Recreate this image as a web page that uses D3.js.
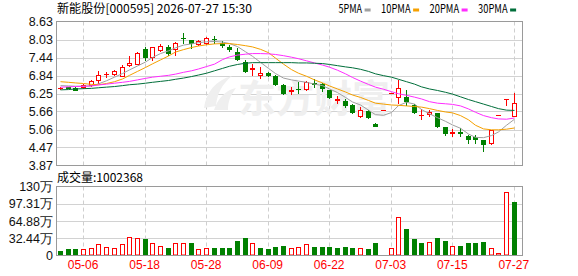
<!DOCTYPE html>
<html lang="zh">
<head>
<meta charset="utf-8">
<title>新能股份 K线</title>
<script src="https://d3js.org/d3.v7.min.js"></script>
<style>
body{margin:0;background:#fff;overflow:hidden;}
svg{display:block;}
.axis text{font-family:"Liberation Sans",Arial,sans-serif;}
</style>
</head>
<body>
<svg id="chart" width="578" height="276"></svg>
<script>
// trading days shown on the chart
var dates = ["04-28","04-29","04-30","05-06","05-07","05-08","05-11","05-12","05-13","05-14",
  "05-15","05-18","05-19","05-20","05-21","05-22","05-25","05-26","05-27","05-28",
  "05-29","06-01","06-02","06-03","06-04","06-05","06-08","06-09","06-10","06-11",
  "06-12","06-15","06-16","06-17","06-18","06-22","06-23","06-24","06-25","06-26",
  "06-29","06-30","07-01","07-03","07-06","07-07","07-08","07-09","07-10","07-13",
  "07-14","07-15","07-16","07-17","07-20","07-21","07-22","07-23","07-24","07-27"];

var opens = [6.42,6.45,6.44,6.45,6.52,6.70,6.89,6.89,6.84,7.19,
  7.24,7.71,7.47,7.68,7.79,7.72,8.09,8.02,7.87,7.92,
  8.06,7.91,7.78,7.63,7.30,7.06,6.87,6.93,6.83,6.53,
  6.33,6.41,6.40,6.61,6.57,6.35,6.04,6.00,5.87,5.51,
  5.68,5.25,5.69,6.26,6.14,6.15,5.87,5.53,5.57,5.60,
  5.13,4.95,4.97,4.85,4.81,4.70,4.60,5.53,6.08,5.52];
var highs = [6.46,6.47,6.45,6.55,6.68,7.00,6.97,7.03,7.19,7.48,
  7.62,7.80,7.80,7.88,7.85,7.95,8.25,8.03,8.01,8.13,
  8.15,7.99,7.84,7.74,7.36,7.22,7.14,6.96,6.87,6.57,
  6.47,6.63,6.66,6.72,6.61,6.36,6.17,6.06,5.90,5.80,
  5.70,5.28,5.69,6.26,6.68,6.37,5.90,5.73,5.72,5.62,
  5.14,5.07,5.10,4.89,4.87,4.72,5.04,5.53,6.08,6.28];
var lows = [6.40,6.42,6.36,6.44,6.50,6.60,6.80,6.86,6.83,7.16,
  7.22,7.37,7.36,7.64,7.53,7.52,7.93,7.75,7.84,7.88,
  7.92,7.79,7.66,7.37,6.95,6.86,6.76,6.84,6.52,6.24,
  6.25,6.27,6.35,6.48,6.32,6.11,5.93,5.81,5.61,5.48,
  5.45,5.17,5.69,6.26,5.93,5.87,5.60,5.40,5.50,5.15,
  4.88,4.84,4.84,4.62,4.60,4.35,4.58,5.53,5.87,5.51];
var closes = [6.44,6.43,6.38,6.53,6.66,6.87,6.91,6.98,7.13,7.27,
  7.60,7.47,7.78,7.81,7.59,7.93,8.07,7.92,7.97,8.07,
  8.04,7.85,7.73,7.39,6.98,7.09,6.94,6.87,6.57,6.27,
  6.36,6.39,6.63,6.58,6.44,6.12,6.06,5.88,5.63,5.70,
  5.47,5.18,5.69,6.26,6.42,6.01,5.63,5.55,5.65,5.17,
  4.93,4.97,4.95,4.75,4.74,4.59,5.03,5.53,6.08,5.92];
var prevClose = 6.47;

// volume in shares
var volumes = [94000,113000,113000,113000,132000,207000,169000,150000,207000,357000,
  320000,301000,226000,188000,150000,226000,244000,226000,113000,132000,
  150000,132000,132000,282000,338000,226000,150000,113000,169000,188000,
  144000,163000,207000,169000,169000,169000,150000,169000,150000,150000,
  113000,244000,13000,150000,733000,489000,301000,226000,263000,320000,
  282000,188000,188000,244000,244000,263000,132000,38000,1198000,1002368];

var ma5 = [6.51,6.50,6.49,6.49,6.50,6.57,6.67,6.79,6.91,7.03,
  7.16,7.29,7.44,7.57,7.66,7.76,7.85,7.89,7.93,7.96,
  7.97,7.95,7.90,7.80,7.63,7.48,7.28,7.08,6.91,6.76,
  6.70,6.66,6.62,6.56,6.51,6.40,6.28,6.12,5.97,5.87,
  5.70,5.55,5.53,5.62,5.85,5.96,5.90,5.72,5.58,5.45,
  5.33,5.21,5.10,4.91,4.80,4.79,4.86,4.98,5.20,5.40];
var ma10 = [6.64,6.62,6.60,6.58,6.55,6.54,6.58,6.64,6.73,6.85,
  6.98,7.11,7.23,7.36,7.49,7.62,7.70,7.77,7.82,7.86,
  7.89,7.90,7.90,7.87,7.83,7.79,7.71,7.60,7.42,7.22,
  7.04,6.92,6.82,6.70,6.60,6.50,6.40,6.30,6.20,6.12,
  6.02,5.93,5.90,5.87,5.86,5.84,5.82,5.80,5.75,5.69,
  5.64,5.61,5.52,5.38,5.20,5.08,5.05,5.05,5.07,5.11];
var ma20 = [6.46,6.47,6.48,6.49,6.50,6.53,6.56,6.59,6.62,6.65,
  6.70,6.75,6.79,6.82,6.85,6.89,6.95,7.00,7.06,7.14,
  7.22,7.37,7.46,7.52,7.55,7.57,7.57,7.56,7.54,7.50,
  7.45,7.40,7.33,7.26,7.19,7.12,7.02,6.90,6.78,6.66,
  6.55,6.46,6.39,6.31,6.24,6.19,6.13,6.07,5.98,5.93,
  5.91,5.89,5.84,5.74,5.63,5.52,5.45,5.41,5.40,5.44];
var ma30 = [6.37,6.38,6.40,6.41,6.42,6.44,6.46,6.48,6.51,6.54,
  6.56,6.59,6.62,6.65,6.68,6.72,6.76,6.81,6.86,6.92,
  7.00,7.08,7.15,7.21,7.25,7.27,7.27,7.27,7.27,7.27,
  7.27,7.26,7.26,7.25,7.24,7.21,7.17,7.13,7.10,7.05,
  6.98,6.90,6.84,6.79,6.72,6.64,6.56,6.47,6.40,6.35,
  6.29,6.23,6.14,6.05,5.98,5.90,5.82,5.75,5.70,5.69];

var priceTicks = [3.87,4.47,5.06,5.66,6.25,6.84,7.44,8.03,8.63];
var volMax = 1297500;
var volTicks = [0,324375,648750,973125,1297500];
var volTickLabels = ["0","32.44万","64.88万","97.31万","130万"];
var tickDates = ["05-06","05-18","05-28","06-09","06-22","07-03","07-15","07-27"];
var maNames = ["5PMA","10PMA","20PMA","30PMA"];
var maColors = ["#a0a0a0","#f5a000","#ff2cff","#006e3a"];

var RED = "#ff0000", GREEN = "#008000";

var svg = d3.select("#chart");
var left = 56, right = 522;
var pTop = 21.5, pBottom = 165.5, vTop = 186.5, vBottom = 255.5;

var x = d3.scaleBand().domain(dates).range([56.2, 517.6]);
var cx = function(d){ return Math.round(x(d) + x.bandwidth() / 2); };
var yP = d3.scaleLinear().domain([3.87, 8.63]).range([pBottom, pTop]);
var yV = d3.scaleLinear().domain([0, volMax]).range([vBottom, vTop]);

var data = dates.map(function(d, i){
  return {date:d, o:opens[i], h:highs[i], l:lows[i], c:closes[i], v:volumes[i],
    volUp: closes[i] >= (i ? closes[i-1] : prevClose)};
});

// grid
var grid = svg.append("g");
grid.selectAll(".hp").data(priceTicks.slice(1, -1)).enter().append("line")
  .attr("x1", left).attr("x2", right)
  .attr("y1", function(d){ return Math.round(yP(d)) + 0.5; })
  .attr("y2", function(d){ return Math.round(yP(d)) + 0.5; })
  .attr("stroke", "#d2d2d2");
grid.selectAll(".hv").data(volTicks.slice(1, -1)).enter().append("line")
  .attr("x1", left).attr("x2", right)
  .attr("y1", function(d){ return Math.round(yV(d)) + 0.5; })
  .attr("y2", function(d){ return Math.round(yV(d)) + 0.5; })
  .attr("stroke", "#d2d2d2");
[[pTop, pBottom], [vTop, vBottom]].forEach(function(r){
  grid.selectAll(null).data(tickDates).enter().append("line")
    .attr("x1", function(d){ return cx(d) + 0.5; })
    .attr("x2", function(d){ return cx(d) + 0.5; })
    .attr("y1", r[0]).attr("y2", r[1])
    .attr("stroke", "#cfcfcf").attr("stroke-dasharray", "4,3");
});

// watermark (logo swoosh + name)
var wm = svg.append("g").attr("fill", "#efefef");
wm.append("path").attr("d", "M204,108 C206,92 216,80 232,76 C222,84 217,94 216,106 Z");
wm.append("path").attr("d", "M214,110 C218,98 226,90 236,88 C230,96 228,102 228,110 Z");
wm.append("text").attr("x", 238).attr("y", 112)
  .attr("font-family", "Noto Sans CJK SC").attr("font-size", 38).attr("font-weight", "bold")
  .text("东方财富");

// candles
var candles = svg.append("g").selectAll("g").data(data).enter().append("g");
candles.append("line")
  .attr("x1", function(d){ return cx(d.date) + 0.5; })
  .attr("x2", function(d){ return cx(d.date) + 0.5; })
  .attr("y1", function(d){ return Math.round(yP(d.h)); })
  .attr("y2", function(d){ return Math.round(yP(d.l)) + 1; })
  .attr("stroke", function(d){ return d.c >= d.o ? RED : GREEN; });
candles.each(function(d){
  var g = d3.select(this), c = cx(d.date);
  var top = Math.round(yP(Math.max(d.o, d.c))), bot = Math.round(yP(Math.min(d.o, d.c)));
  if (bot - top < 1) {
    g.append("line").attr("x1", c - 2).attr("x2", c + 3)
      .attr("y1", top + 0.5).attr("y2", top + 0.5)
      .attr("stroke", d.c >= d.o ? RED : GREEN);
  } else if (d.c > d.o) {
    g.append("rect").attr("x", c - 1.5).attr("y", top + 0.5)
      .attr("width", 4).attr("height", bot - top)
      .attr("fill", "#fff").attr("stroke", RED);
  } else {
    g.append("rect").attr("x", c - 2).attr("y", top)
      .attr("width", 5).attr("height", bot - top + 1)
      .attr("fill", GREEN);
  }
});

// moving averages
[ma5, ma10, ma20, ma30].forEach(function(ma, k){
  var line = d3.line()
    .x(function(d, i){ return cx(dates[i]) + 0.5; })
    .y(function(d){ return yP(d); });
  svg.append("path").datum(ma).attr("d", line)
    .attr("fill", "none").attr("stroke", maColors[k]).attr("stroke-width", 1);
});

// volume bars
svg.append("g").selectAll("g").data(data).enter().append("g").each(function(d){
  var g = d3.select(this), c = cx(d.date);
  var top = Math.round(yV(d.v));
  if (d.volUp) {
    g.append("rect").attr("x", c - 1.5).attr("y", top + 0.5)
      .attr("width", 4).attr("height", Math.max(0, vBottom - 0.5 - top - 0.5))
      .attr("fill", "#fff").attr("stroke", RED);
  } else {
    g.append("rect").attr("x", c - 2).attr("y", top)
      .attr("width", 5).attr("height", vBottom - top)
      .attr("fill", GREEN);
  }
});

// frames
[[pTop, pBottom], [vTop, vBottom]].forEach(function(r){
  svg.append("rect").attr("x", left + 0.5).attr("y", r[0])
    .attr("width", right - left).attr("height", r[1] - r[0])
    .attr("fill", "none").attr("stroke", "#9a9a9a");
});

// axes
var axP = svg.append("g").attr("class", "axis").attr("transform", "translate(" + left + ",0)")
  .call(d3.axisLeft(yP).tickValues(priceTicks).tickFormat(d3.format(".2f")).tickSize(0).tickPadding(3));
axP.select(".domain").remove();
axP.selectAll("text").attr("font-size", 12.5).attr("fill", "#111");

var axV = svg.append("g").attr("class", "axis").attr("transform", "translate(" + left + ",0)")
  .call(d3.axisLeft(yV).tickValues(volTicks)
    .tickFormat(function(d, i){ return volTickLabels[i]; }).tickSize(0).tickPadding(3));
axV.select(".domain").remove();
axV.selectAll("text").attr("font-size", 12.5).attr("fill", "#111");

var axX = svg.append("g").attr("class", "axis").attr("transform", "translate(0," + vBottom + ")")
  .call(d3.axisBottom(x).tickValues(tickDates).tickSize(0).tickPadding(5));
axX.select(".domain").remove();
axX.selectAll("text").attr("font-size", 12).attr("fill", RED);

// titles
svg.append("text").attr("x", 57).attr("y", 13)
  .attr("font-family", "Noto Sans CJK SC").attr("font-size", 12).attr("fill", "#000")
  .attr("textLength", 195).attr("lengthAdjust", "spacingAndGlyphs")
  .text("新能股份[000595] 2026-07-27 15:30");
svg.append("text").attr("x", 57).attr("y", 182)
  .attr("font-family", "Noto Sans CJK SC").attr("font-size", 12).attr("fill", "#000")
  .text("成交量:" + volumes[volumes.length - 1]);

// legend
var lx = 338.5;
maNames.forEach(function(name, k){
  svg.append("text").attr("x", lx).attr("y", 13)
    .attr("font-family", "Noto Sans CJK SC").attr("font-size", 12).attr("fill", "#000")
    .attr("textLength", name.length * 5.9).attr("lengthAdjust", "spacingAndGlyphs")
    .text(name);
  lx += name.length * 5.9 + 2.5;
  svg.append("rect").attr("x", lx).attr("y", 8.5).attr("width", 6).attr("height", 3)
    .attr("fill", maColors[k]);
  lx += 6 + 10.5;
});
</script>
</body>
</html>
